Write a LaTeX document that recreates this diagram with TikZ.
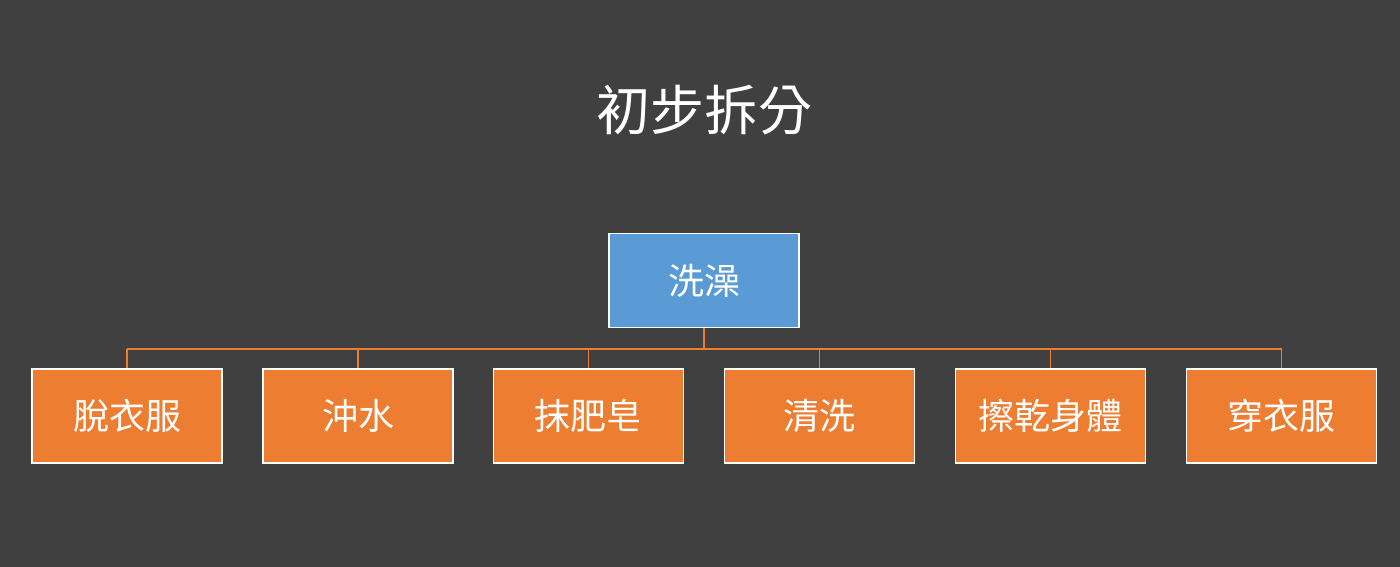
\documentclass[tikz,border=0pt]{standalone}
\usepackage{fontspec}
\newfontfamily\cjk{Noto Sans CJK TC}
\begin{document}
\begin{tikzpicture}[x=1pt,y=-1pt,
  boxo/.style={draw=white,line width=1.2pt,fill={rgb,255:red,237;green,125;blue,49},minimum width=190pt,minimum height=94pt,inner sep=0pt,text=white,font=\cjk\fontsize{36}{40}\selectfont},
  boxb/.style={boxo,fill={rgb,255:red,91;green,155;blue,213}},
  conn/.style={draw={rgb,255:red,237;green,125;blue,49},line width=1.2pt}]
\fill[fill={rgb,255:red,64;green,64;blue,64}] (0,0) rectangle (1400,567);
\useasboundingbox (0,0) rectangle (1400,567);
\node[text=white,font=\cjk\fontsize{54}{60}\selectfont] (title) at (704,110) {初步拆分};
\node[boxb] (root) at (704,280.5) {洗澡};
\coordinate (j) at (704,349);
\foreach \n/\x/\t in {a/127/脫衣服,b/358/沖水,c/588.5/抹肥皂,d/819.5/清洗,e/1050.5/擦乾身體,f/1281.5/穿衣服}{
  \node[boxo] (\n) at (\x,416) {\t};
  \draw[conn] (\n.north) -- (\x,349);
}
\draw[conn] (a.north |- j) -- (f.north |- j);
\draw[conn] (root.south) -- (j);
\end{tikzpicture}
\end{document}
